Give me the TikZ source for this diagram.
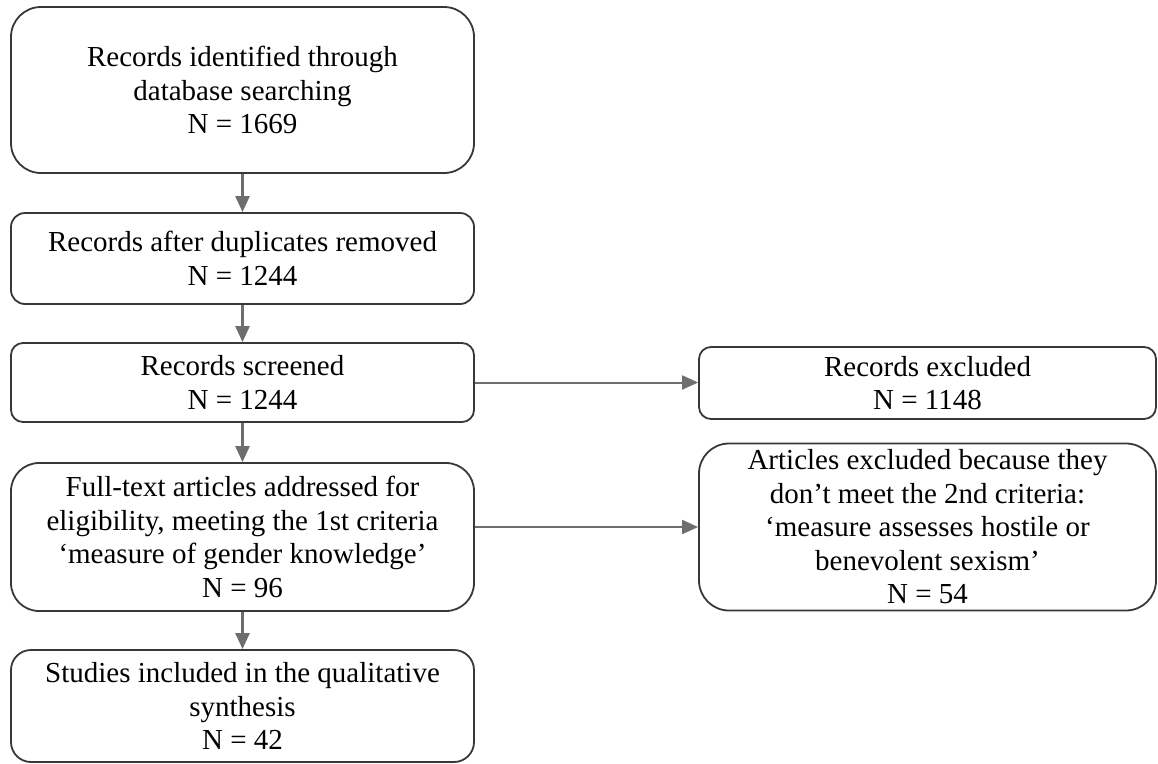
\documentclass[tikz,border=0pt]{standalone}
\usepackage{fontspec}
\setmainfont{Liberation Serif}
\usetikzlibrary{arrows.meta}
\definecolor{boxline}{HTML}{383838}
\definecolor{arrline}{HTML}{6E6E6E}
\tikzset{
  box/.style={draw=boxline, line width=1.8pt, align=center, inner sep=0pt,
    minimum width=463pt, font=\fontsize{29}{33.5}\selectfont, text=black},
  flow/.style={draw=arrline, line width=2.6pt, -{Triangle[length=16pt,width=14pt]}},
  sideflow/.style={draw=arrline, line width=2pt, -{Triangle[length=16pt,width=14pt]}}
}
\begin{document}
\begin{tikzpicture}[x=1pt,y=-1pt]
\useasboundingbox (0,0) rectangle (1158,763);
\node[box, rounded corners=30pt, minimum height=166pt] (b1) at (242.5,90) {Records identified through\\database searching\\N = 1669};
\node[box, rounded corners=14pt, minimum height=91pt] (b2) at (242.5,258.5) {Records after duplicates removed\\N = 1244};
\node[box, rounded corners=12pt, minimum height=79pt] (b3) at (242.5,382.5) {Records screened\\N = 1244};
\node[box, rounded corners=28pt, minimum height=148pt] (b4) at (242.5,537) {Full-text articles addressed for\\eligibility, meeting the 1st criteria\\‘measure of gender knowledge’\\N = 96};
\node[box, rounded corners=20pt, minimum height=112pt] (b5) at (242.5,706) {Studies included in the qualitative\\synthesis\\N = 42};
\node[box, rounded corners=12pt, minimum width=457pt, minimum height=72pt] (r1) at (927.5,383) {Records excluded\\N = 1148};
\node[box, rounded corners=30pt, minimum width=457pt, minimum height=167pt] (r2) at (927.5,527) {Articles excluded because they\\don’t meet the 2nd criteria:\\‘measure assesses hostile or\\benevolent sexism’\\N = 54};
\draw[flow] (b1) -- (b2);
\draw[flow] (b2) -- (b3);
\draw[flow] (b3) -- (b4);
\draw[flow] (b4) -- (b5);
\draw[sideflow] (b3.east) -- (b3.east -| r1.west);
\draw[sideflow] (b4.east |- r2.west) -- (r2.west);
\end{tikzpicture}
\end{document}
